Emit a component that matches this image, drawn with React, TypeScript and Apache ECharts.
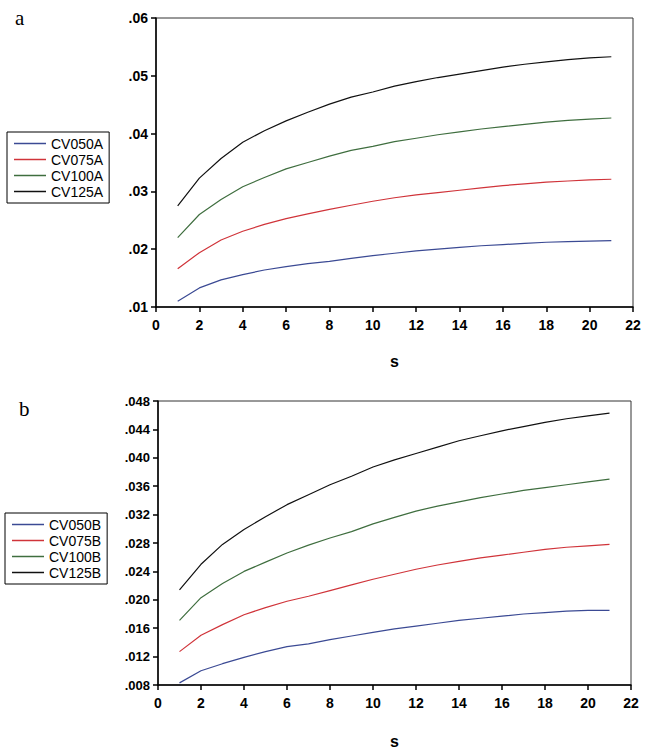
import React, { useEffect, useRef } from "react";
import * as echarts from "echarts";

const sValues = [1, 2, 3, 4, 5, 6, 7, 8, 9, 10, 11, 12, 13, 14, 15, 16, 17, 18, 19, 20, 21];

const namesA = ["CV050A", "CV075A", "CV100A", "CV125A"];
const namesB = ["CV050B", "CV075B", "CV100B", "CV125B"];

const cv050A = [0.0110, 0.0133, 0.0147, 0.0156, 0.0164, 0.0170, 0.0175, 0.0179, 0.0184, 0.0189, 0.0193, 0.0197, 0.0200, 0.0203, 0.0206, 0.0208, 0.0210, 0.0212, 0.0213, 0.0214, 0.0215];
const cv075A = [0.0166, 0.0194, 0.0216, 0.0231, 0.0243, 0.0253, 0.0261, 0.0269, 0.0276, 0.0283, 0.0289, 0.0294, 0.0298, 0.0302, 0.0306, 0.0310, 0.0313, 0.0316, 0.0318, 0.0320, 0.0321];
const cv100A = [0.0220, 0.0260, 0.0286, 0.0308, 0.0324, 0.0339, 0.0350, 0.0361, 0.0371, 0.0378, 0.0386, 0.0392, 0.0398, 0.0403, 0.0408, 0.0412, 0.0416, 0.0420, 0.0423, 0.0425, 0.0427];
const cv125A = [0.0275, 0.0323, 0.0357, 0.0385, 0.0405, 0.0422, 0.0437, 0.0451, 0.0463, 0.0472, 0.0482, 0.0490, 0.0497, 0.0503, 0.0509, 0.0515, 0.0520, 0.0524, 0.0528, 0.0531, 0.0533];

const cv050B = [0.0083, 0.0100, 0.0110, 0.0119, 0.0127, 0.0134, 0.0138, 0.0144, 0.0149, 0.0154, 0.0159, 0.0163, 0.0167, 0.0171, 0.0174, 0.0177, 0.0180, 0.0182, 0.0184, 0.0185, 0.0185];
const cv075B = [0.0127, 0.0150, 0.0165, 0.0179, 0.0189, 0.0198, 0.0205, 0.0213, 0.0221, 0.0229, 0.0236, 0.0243, 0.0249, 0.0254, 0.0259, 0.0263, 0.0267, 0.0271, 0.0274, 0.0276, 0.0278];
const cv100B = [0.0171, 0.0203, 0.0223, 0.0240, 0.0253, 0.0266, 0.0277, 0.0287, 0.0296, 0.0307, 0.0316, 0.0325, 0.0332, 0.0338, 0.0344, 0.0349, 0.0354, 0.0358, 0.0362, 0.0366, 0.0370];
const cv125B = [0.0214, 0.0250, 0.0278, 0.0299, 0.0317, 0.0334, 0.0348, 0.0362, 0.0374, 0.0387, 0.0397, 0.0406, 0.0415, 0.0424, 0.0431, 0.0438, 0.0444, 0.0450, 0.0455, 0.0459, 0.0463];

const colors = ["#3b4a94", "#d0343a", "#3f6e3f", "#111111"];

const labelFont = "'Liberation Sans', Arial, sans-serif";

export default function App() {
  const ref = useRef<HTMLDivElement>(null);
  useEffect(() => {
    if (!ref.current) return;
    const chart = echarts.init(ref.current, null, { renderer: "svg" });
    const pair = (vals: number[]) => sValues.map((s, i) => [s, vals[i]]);
    const seriesA = [cv050A, cv075A, cv100A, cv125A];
    const seriesB = [cv050B, cv075B, cv100B, cv125B];

    const xAxisBase = (gridIndex: number, gap: number) => ({
      type: "value",
      gridIndex,
      min: 0,
      max: 22,
      interval: 2,
      name: "s",
      nameLocation: "middle",
      nameGap: gap,
      nameTextStyle: { fontFamily: labelFont, fontWeight: "bold", fontSize: 16, color: "#000" },
      axisLine: { lineStyle: { color: "#000", width: 1.5 } },
      axisTick: { inside: false, length: 5, lineStyle: { color: "#000", width: 1.5 } },
      axisLabel: { margin: 11, fontFamily: labelFont, fontWeight: "bold", fontSize: 14, color: "#000" },
      splitLine: { show: false },
    });
    const yAxisBase = (gridIndex: number, min: number, max: number, interval: number, dec: number, fs: number) => ({
      type: "value",
      gridIndex,
      min,
      max,
      interval,
      axisLine: { show: true, lineStyle: { color: "#000", width: 1.5 } },
      axisTick: { show: true, inside: false, length: 5, lineStyle: { color: "#000", width: 1.5 } },
      axisLabel: {
        margin: 8,
        fontFamily: labelFont,
        fontWeight: "bold",
        fontSize: fs,
        color: "#000",
        formatter: (v: number) => v.toFixed(dec).replace(/^0/, ""),
      },
      splitLine: { show: false },
    });
    const legendBase = (names: string[], left: number, top: number) => ({
      data: names,
      orient: "vertical",
      left,
      top,
      icon: "rect",
      itemWidth: 32,
      itemHeight: 1.5,
      itemGap: 1,
      padding: [4, 6, 4, 7],
      borderColor: "#000",
      borderWidth: 1,
      textStyle: { fontFamily: labelFont, fontSize: 14, color: "#000", lineHeight: 15 },
    });

    chart.setOption({
      animation: false,
      backgroundColor: "#fff",
      grid: [
        { left: 156, top: 18, width: 477, height: 289, show: true, borderColor: "#333", borderWidth: 1, containLabel: false },
        { left: 158, top: 401, width: 473, height: 284, show: true, borderColor: "#333", borderWidth: 1, containLabel: false },
      ],
      xAxis: [xAxisBase(0, 46), xAxisBase(1, 48)],
      yAxis: [
        yAxisBase(0, 0.01, 0.06, 0.01, 2, 14),
        yAxisBase(1, 0.008, 0.048, 0.004, 3, 13),
      ],
      legend: [legendBase(namesA, 7, 132), legendBase(namesB, 5, 513)],
      graphic: [
        { type: "text", left: 15, top: 7, style: { text: "a", font: "21px 'Liberation Serif', 'Times New Roman', serif", fill: "#000" } },
        { type: "text", left: 19, top: 398, style: { text: "b", font: "21px 'Liberation Serif', 'Times New Roman', serif", fill: "#000" } },
      ],
      series: [
        ...namesA.map((n, i) => ({
          name: n,
          type: "line",
          xAxisIndex: 0,
          yAxisIndex: 0,
          data: pair(seriesA[i]),
          showSymbol: false,
          symbol: "none",
          smooth: false,
          lineStyle: { color: colors[i], width: 1.2 },
          itemStyle: { color: colors[i] },
        })),
        ...namesB.map((n, i) => ({
          name: n,
          type: "line",
          xAxisIndex: 1,
          yAxisIndex: 1,
          data: pair(seriesB[i]),
          showSymbol: false,
          symbol: "none",
          smooth: false,
          lineStyle: { color: colors[i], width: 1.2 },
          itemStyle: { color: colors[i] },
        })),
      ],
    });
    return () => chart.dispose();
  }, []);
  return (
    <div
      ref={ref}
      style={{ position: "fixed", left: 0, top: 0, width: 648, height: 750, background: "#fff" }}
    />
  );
}
